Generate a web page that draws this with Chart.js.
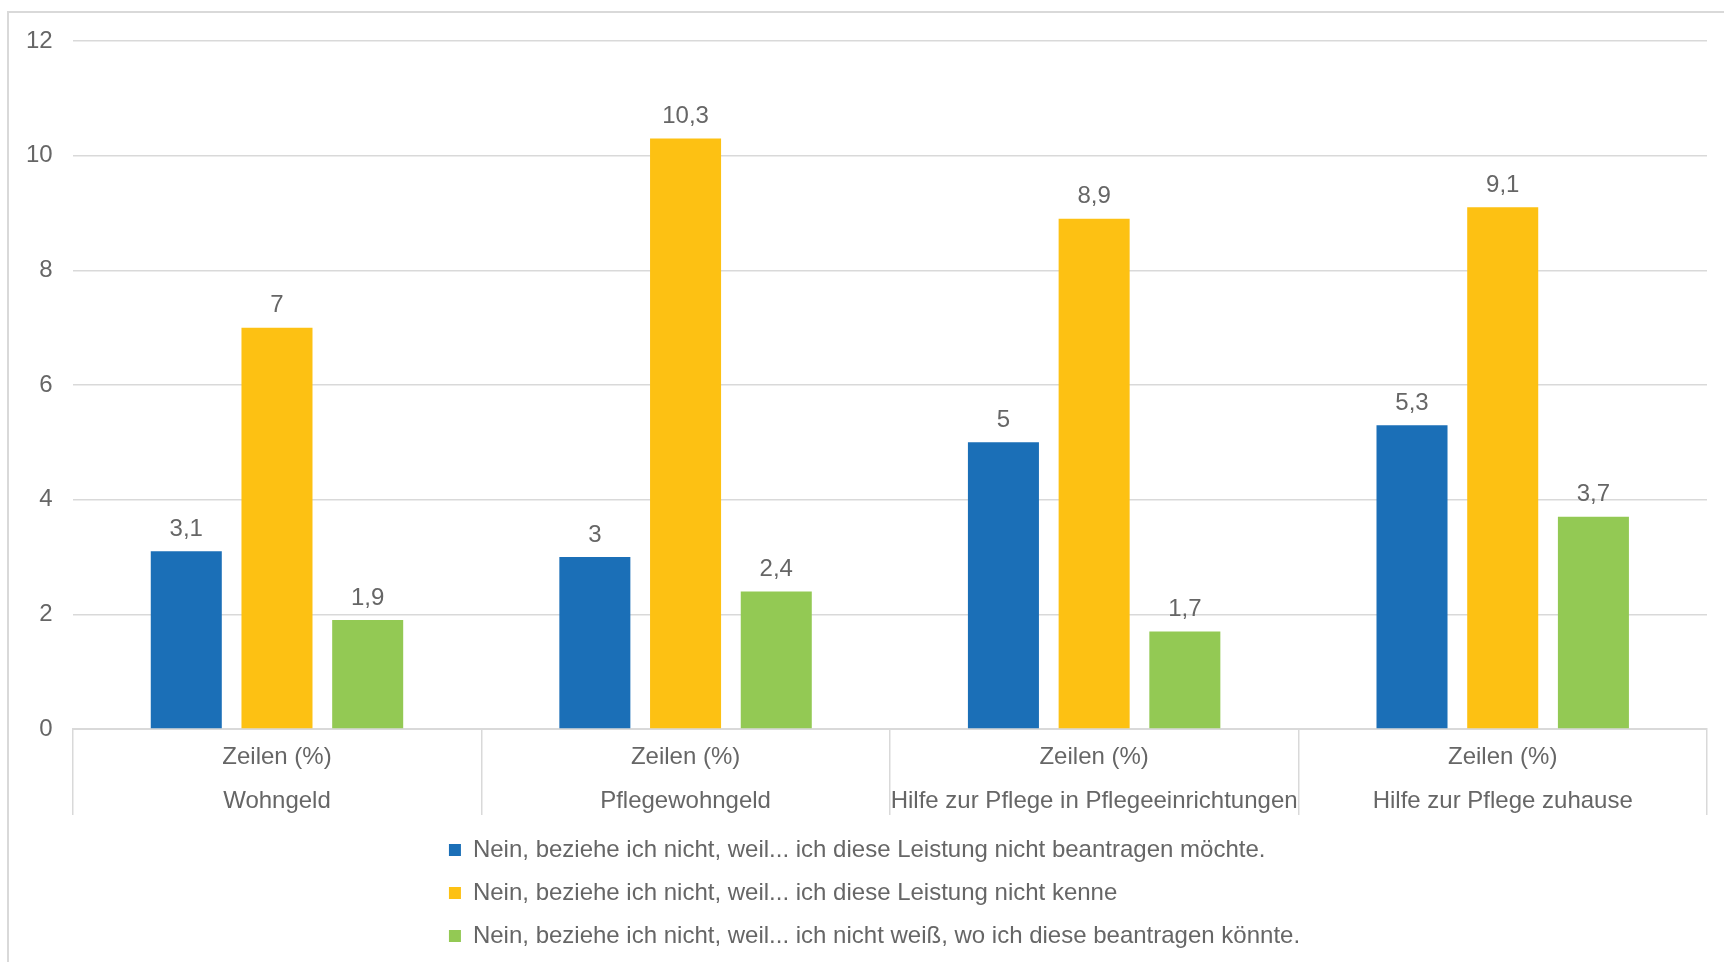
<!DOCTYPE html>
<html>
<head>
<meta charset="utf-8">
<script src="https://cdn.jsdelivr.net/npm/chart.js@4/dist/chart.umd.min.js"></script>
<style>
  html, body { margin: 0; padding: 0; background: #ffffff; }
  #wrap { position: relative; width: 1724px; height: 962px; overflow: hidden; background: #ffffff; }
  #frame { position: absolute; left: 7px; top: 11px; width: 1740px; height: 980px; border-left: 2px solid #d9d9d9; border-top: 2px solid #d9d9d9; }
  #c { position: absolute; left: 0; top: 0; }
</style>
</head>
<body>
<div id="wrap">
  <div id="frame"></div>
  <canvas id="c" width="1724" height="962"></canvas>
</div>
<script>
// ---- data ----
const rowLabel = "Zeilen (%)";
const categories = ["Wohngeld", "Pflegewohngeld", "Hilfe zur Pflege in Pflegeeinrichtungen", "Hilfe zur Pflege zuhause"];
const seriesNames = [
  "Nein, beziehe ich nicht, weil... ich diese Leistung nicht beantragen möchte.",
  "Nein, beziehe ich nicht, weil... ich diese Leistung nicht kenne",
  "Nein, beziehe ich nicht, weil... ich nicht weiß, wo ich diese beantragen könnte."
];
const valuesNichtBeantragen = [3.1, 3.0, 5.0, 5.3];
const valuesNichtKenne = [7.0, 10.3, 8.9, 9.1];
const valuesNichtWeiss = [1.9, 2.4, 1.7, 3.7];
const yTicks = [0, 2, 4, 6, 8, 10, 12];

// ---- styles ----
const colors = ["#1b6fb7", "#fdc113", "#93c954"];
const textColor = "#666666";
const gridColor = "#d9d9d9";
const fontSize = 24;
Chart.defaults.font.family = '"Liberation Sans", Arial, Helvetica, sans-serif';
Chart.defaults.font.size = fontSize;
Chart.defaults.color = textColor;

const seriesValues = [valuesNichtBeantragen, valuesNichtKenne, valuesNichtWeiss];

const valueLabels = {
  id: 'valueLabels',
  afterDatasetsDraw(chart) {
    const ctx = chart.ctx;
    ctx.save();
    ctx.font = fontSize + 'px "Liberation Sans", Arial, sans-serif';
    ctx.fillStyle = textColor;
    ctx.textAlign = 'center';
    ctx.textBaseline = 'middle';
    chart.data.datasets.forEach((ds, di) => {
      const meta = chart.getDatasetMeta(di);
      meta.data.forEach((el, i) => {
        const txt = String(ds.data[i]).replace('.', ',');
        ctx.fillText(txt, el.x, el.y - 22);
      });
    });
    ctx.restore();
  }
};

// stack legend items one per row, rows left-aligned as a block
const legendBlock = {
  id: 'legendBlock',
  beforeLayout(chart) {
    const lg = chart.legend;
    if (lg && !lg._blockPatched) {
      const origFit = lg.fit;
      lg.fit = function () {
        this.maxWidth = Math.min(this.maxWidth, 900);
        origFit.call(this);
      };
      lg._blockPatched = true;
    }
  },
  beforeDraw(chart) {
    const lg = chart.legend;
    if (lg && lg.lineWidths && lg.lineWidths.length) {
      const w = Math.max(...lg.lineWidths) - 36;
      lg.lineWidths = lg.lineWidths.map(() => w);
    }
  }
};

new Chart(document.getElementById('c'), {
  type: 'bar',
  data: {
    labels: categories.map(c => [rowLabel, c]),
    datasets: seriesNames.map((name, i) => ({
      label: name,
      data: seriesValues[i],
      backgroundColor: colors[i],
      borderWidth: 0,
      categoryPercentage: 0.666,
      barPercentage: 0.783
    }))
  },
  options: {
    responsive: false,
    animation: false,
    devicePixelRatio: 1,
    layout: { padding: { left: 6, right: 17, top: 41, bottom: 4 } },
    plugins: {
      legend: {
        position: 'bottom',
        labels: {
          boxWidth: 12,
          boxHeight: 12,
          padding: 19,
          color: textColor,
          font: { size: fontSize }
        }
      },
      tooltip: { enabled: false },
      title: { display: false }
    },
    scales: {
      x: {
        grid: {
          offset: true,
          drawOnChartArea: false,
          drawTicks: true,
          tickLength: 86,
          color: gridColor,
          lineWidth: 1.5
        },
        border: { display: true, color: gridColor, width: 2 },
        ticks: {
          color: textColor,
          font: { size: fontSize, lineHeight: 44 / fontSize },
          padding: -80,
          maxRotation: 0,
          autoSkip: false
        },
        afterFit(scale) { scale.height = 90; }
      },
      y: {
        min: yTicks[0],
        max: yTicks[yTicks.length - 1],
        afterBuildTicks(scale) { scale.ticks = yTicks.map(v => ({ value: v })); },
        grid: { color: gridColor, lineWidth: 1.5, drawTicks: false },
        border: { display: false },
        ticks: { color: textColor, font: { size: fontSize }, padding: 20 }
      }
    }
  },
  plugins: [valueLabels, legendBlock]
});
</script>
</body>
</html>
